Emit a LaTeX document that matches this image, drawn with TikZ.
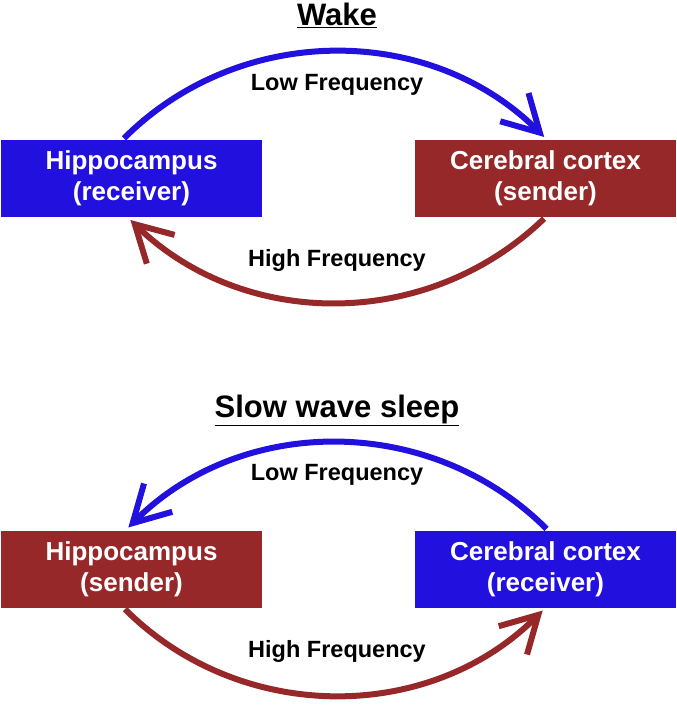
\documentclass[tikz,border=0pt]{standalone}
\usepackage{fontspec}
\setmainfont{Liberation Sans}
\usepackage{xcolor}
\usetikzlibrary{arrows.meta}

\definecolor{recvblue}{RGB}{34,16,222}
\definecolor{sendred}{RGB}{150,40,42}

\tikzset{
    region/.style={minimum width=261pt, minimum height=77pt, inner sep=0pt,
        align=center, text=white, font=\fontsize{26}{31}\selectfont\bfseries},
    freq/.style={anchor=base, font=\fontsize{23.5}{26}\selectfont\bfseries},
    phase/.style={anchor=base, font=\fontsize{31}{34}\selectfont\bfseries},
    flow/.style={line width=6pt, shorten <=2pt, shorten >=4pt,
        -{Straight Barb[length=36pt, width=40pt]}},
}

\begin{document}
\begin{tikzpicture}[x=1pt, y=-1pt]
    \useasboundingbox (0,0) rectangle (677,705);

    % wake
    \node[phase] (wake) at (337,25) {\underline{Wake}};
    \node[region, fill=recvblue] (hipW) at (131.5,178.5) {Hippocampus\\(receiver)};
    \node[region, fill=sendred] (ctxW) at (545.5,178.5) {Cerebral cortex\\(sender)};

    \draw[flow, recvblue] ([xshift=-9pt]hipW.north) to[bend left=45] ([xshift=1.5pt]ctxW.north);
    \draw[flow, sendred] (ctxW.south) to[bend left=44] ([xshift=-4pt]hipW.south);

    \node[freq] (lowW) at (337,90) {Low Frequency};
    \node[freq] (highW) at (337,266) {High Frequency};

    % slow wave sleep
    \node[phase] (sws) at (337,417) {\underline{Slow wave sleep}};
    \node[region, fill=sendred] (hipS) at (131.5,569) {Hippocampus\\(sender)};
    \node[region, fill=recvblue] (ctxS) at (545.5,569) {Cerebral cortex\\(receiver)};

    \draw[flow, recvblue] ([xshift=2.5pt]ctxS.north) to[bend right=45] ([xshift=-6pt]hipS.north);
    \draw[flow, sendred] ([xshift=-8pt]hipS.south) to[bend right=45] (ctxS.south);

    \node[freq] (lowS) at (337,480) {Low Frequency};
    \node[freq] (highS) at (337,657) {High Frequency};
\end{tikzpicture}
\end{document}
